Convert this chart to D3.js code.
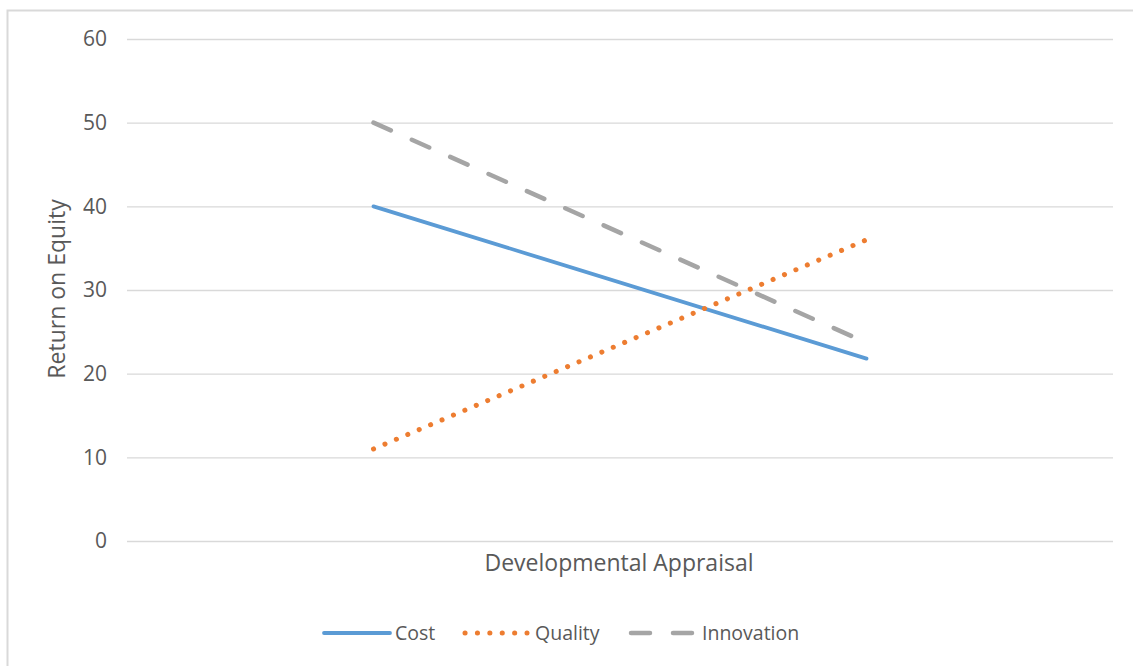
<!DOCTYPE html>
<html><head><meta charset="utf-8">
<script src="https://cdn.jsdelivr.net/npm/d3@7"></script>
<style>body{margin:0;background:#fff}svg{display:block}text{font-family:"Open Sans",sans-serif;fill:#595959}</style>
</head><body>
<script>
const categories = ["Low", "High"];
const costValues = [40, 21.8];
const qualityValues = [11, 36];
const innovationValues = [50, 23.7];
const yTicks = [0, 10, 20, 30, 40, 50, 60];
const seriesNames = ["Cost", "Quality", "Innovation"];

(function () {
const W = 1133, H = 666;
const svg = d3.select("body").append("svg").attr("width", W).attr("height", H);
svg.append("rect").attr("x", 7.5).attr("y", 10.5).attr("width", W + 10).attr("height", H + 10)
  .attr("fill", "#fff").attr("stroke", "#d9d9d9").attr("stroke-width", 2);

const mLeft = 127, mRight = 1113, mTop = 39, mBottom = 541;
const x = d3.scaleBand().domain(categories).range([mLeft, mRight]);
const y = d3.scaleLinear().domain([0, 60]).range([mBottom, mTop]);

const yAxis = d3.axisLeft(y).tickValues(yTicks).tickSize(-(mRight - mLeft)).tickPadding(20);
const ga = svg.append("g").attr("transform", `translate(${mLeft},0)`).call(yAxis);
ga.select(".domain").remove();
ga.selectAll(".tick line").attr("stroke", "#d9d9d9").attr("stroke-width", 1.3);
ga.selectAll(".tick text").style("font-size", "21px").style("fill", "#595959").attr("font-family", null);

const series = [
  {name: seriesNames[0], values: costValues, color: "#5B9BD5", dash: null, cap: "round", w: 3.8},
  {name: seriesNames[1], values: qualityValues, color: "#ED7D31", dash: "0.1 12.3", cap: "round", w: 5},
  {name: seriesNames[2], values: innovationValues, color: "#A5A5A5", dash: "19 23", cap: "round", w: 4.5}
];
const line = d3.line().x((d, i) => x(categories[i]) + x.bandwidth() / 2).y(d => y(d));
series.forEach(s => {
  svg.append("path").attr("d", line(s.values)).attr("fill", "none")
    .attr("stroke", s.color).attr("stroke-width", s.w).attr("stroke-linecap", s.cap)
    .attr("stroke-dasharray", s.dash);
});

svg.append("text").attr("x", 619).attr("y", 571).attr("text-anchor", "middle")
  .style("font-size", "23px").text("Developmental Appraisal");
svg.append("text").attr("transform", "translate(65,289) rotate(-90)").attr("text-anchor", "middle")
  .style("font-size", "23px").text("Return on Equity");

const legendItems = [
  {s: series[0], x1: 324, x2: 390, tx: 395},
  {s: series[1], x1: 465, x2: 527, tx: 535},
  {s: series[2], x1: 631, x2: 692, tx: 702}
];
const ly = 633;
legendItems.forEach(li => {
  svg.append("line").attr("x1", li.x1).attr("x2", li.x2).attr("y1", ly).attr("y2", ly)
    .attr("stroke", li.s.color).attr("stroke-width", li.s.w).attr("stroke-linecap", li.s.cap)
    .attr("stroke-dasharray", li.s.dash);
  svg.append("text").attr("x", li.tx).attr("y", 640).style("font-size", "19.5px").text(li.s.name);
});
})();
</script>
</body></html>
